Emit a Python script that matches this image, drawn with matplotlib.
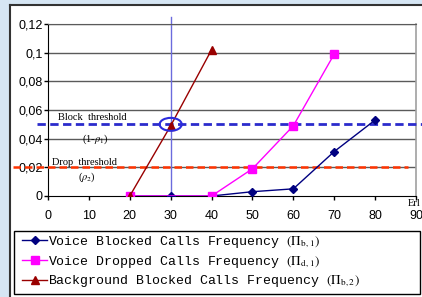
import numpy as np
import matplotlib
matplotlib.use('Agg')
import matplotlib.pyplot as plt
from matplotlib.patches import Rectangle, Ellipse
from matplotlib.lines import Line2D

plt.rcParams['mathtext.fontset'] = 'stix'

# Traffic load (Erl)
load_voice = [20, 30, 40, 50, 60, 70, 80]
voice_blocked = [0, 0, 0, 0.003, 0.005, 0.031, 0.053]

load_dropped = [20, 40, 50, 60, 70]
voice_dropped = [0, 0, 0.019, 0.049, 0.099]

load_bg = [20, 30, 40]
bg_blocked = [0, 0.049, 0.102]

block_threshold = 0.05
drop_threshold = 0.02
operating_load = 30

xticks = [0, 10, 20, 30, 40, 50, 60, 70, 80, 90]
yticks = [0, 0.02, 0.04, 0.06, 0.08, 0.1, 0.12]
ytick_labels = ['0', '0,02', '0,04', '0,06', '0,08', '0,1', '0,12']

labels = ['Voice Blocked Calls Frequency',
          'Voice Dropped Calls Frequency',
          'Background Blocked Calls Frequency']
subscripts = [r'$(\Pi_{\mathrm{b},1})$', r'$(\Pi_{\mathrm{d},1})$', r'$(\Pi_{\mathrm{b},2})$']

fig = plt.figure(figsize=(4.22, 2.97), dpi=100)
fig.patch.set_facecolor('#d6e6f4')

# white chart area with dark top/left border
fig.patches.append(Rectangle((10 / 422, 0), 1, 1 - 5 / 297, transform=fig.transFigure,
                             facecolor='white', edgecolor='none', zorder=-5))
fig.add_artist(Line2D([10 / 422, 10 / 422], [0, 1 - 5 / 297], transform=fig.transFigure,
                      color='#333333', lw=1.5, zorder=-4))
fig.add_artist(Line2D([10 / 422, 1], [1 - 5 / 297, 1 - 5 / 297], transform=fig.transFigure,
                      color='#333333', lw=1.5, zorder=-4))

ax = fig.add_axes([48 / 422, 1 - 196 / 297, 368 / 422, 172 / 297])
ax.set_zorder(1)
ax.set_facecolor('white')
ax.set_xlim(0, 90)
ax.set_ylim(0, 0.12)

for y in yticks[1:]:
    ax.axhline(y, color='#5a5a5a', lw=1, zorder=1)

ax.plot(load_voice, voice_blocked, color='#000080', lw=1, marker='D', ms=4.5, zorder=4)
ax.plot(load_dropped, voice_dropped, color='#ff00ff', lw=1, marker='s', ms=5.5, zorder=4)
ax.plot(load_bg, bg_blocked, color='#990000', lw=1, marker='^', ms=5.5, zorder=5)

# thresholds and operating point
ax.axhline(block_threshold, xmin=-0.03, xmax=1.016, color='#2b2bcc', lw=2,
           dashes=(3, 1.6), clip_on=False, zorder=3)
ax.axhline(drop_threshold, xmin=-0.095, xmax=0.978, color='#ff3300', lw=1.8,
           dashes=(3, 1.6), clip_on=False, zorder=3)
ax.axvline(operating_load, ymin=0, ymax=1.04, color='#6b6bdd', lw=1, clip_on=False, zorder=2)
ax.add_patch(Ellipse((operating_load, block_threshold), 5.4, 0.009, fill=False,
                     edgecolor='#2b2bdd', lw=1.5, zorder=6))

tf = dict(family='Liberation Serif', fontsize=7.5, va='baseline', transform=ax.transAxes)
ax.text(0.027, 0.442, 'Block  threshold', **tf)
ax.text(0.092, 0.314, r'(1-$\rho_1$)', **tf)
ax.text(0.011, 0.180, 'Drop  threshold', **tf)
ax.text(0.082, 0.093, r'($\rho_2$)', **tf)
ax.text(0.978, -0.058, 'Erl', family='Liberation Serif', fontsize=7.5,
        ha='left', va='baseline', transform=ax.transAxes)

ax.set_xticks(xticks)
ax.set_yticks(yticks)
ax.set_yticklabels(ytick_labels)
for lab in ax.get_xticklabels() + ax.get_yticklabels():
    lab.set_family('Liberation Sans')
    lab.set_fontsize(9)
ax.tick_params(direction='out', length=3, width=1, pad=1)
ax.tick_params(axis='x', pad=7)

ax.spines['left'].set_color('black')
ax.spines['bottom'].set_color('black')
ax.spines['top'].set_color('#5a5a5a')
ax.spines['right'].set_color('#a0a0a0')
ax.spines['right'].set_linewidth(1.2)

# legend: frame drawn separately, entries placed inside it
fig.patches.append(Rectangle((14 / 422, 3 / 297), 406 / 422, 63 / 297,
                             transform=fig.transFigure, facecolor='white',
                             edgecolor='black', lw=1, zorder=2))
handles = [
    Line2D([], [], color='#000080', lw=1, marker='D', ms=4.5),
    Line2D([], [], color='#ff00ff', lw=1, marker='s', ms=5.5),
    Line2D([], [], color='#990000', lw=1, marker='^', ms=5.5),
]
leg_labels = [l + ' ' + s for l, s in zip(labels, subscripts)]
leg = fig.legend(handles, leg_labels, loc='upper left',
                 bbox_to_anchor=(22 / 422, 1 - 234 / 297),
                 prop={'family': 'Liberation Mono', 'size': 9.5}, frameon=False,
                 handlelength=1.9, handletextpad=0.1,
                 labelspacing=0.3, borderpad=0.0, borderaxespad=0)
leg.set_zorder(3)

fig.savefig('out.png', dpi=100)
